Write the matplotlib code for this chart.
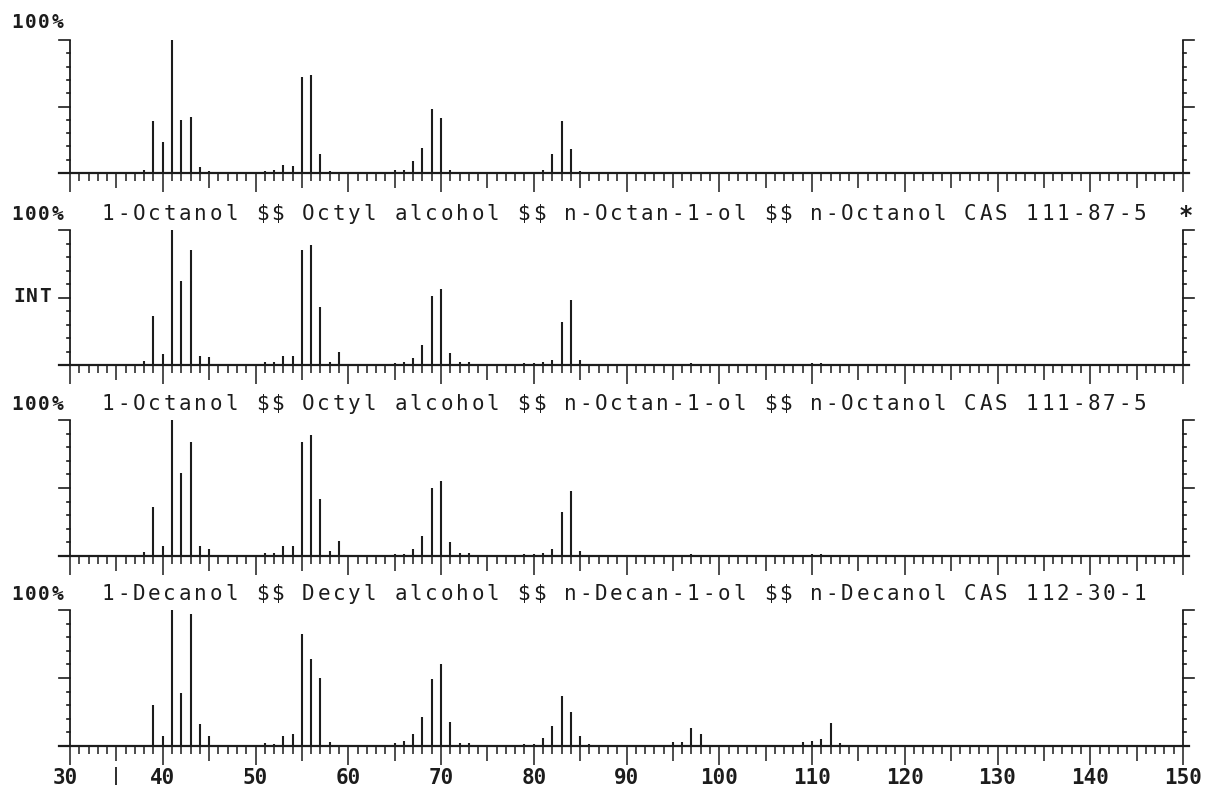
import matplotlib
matplotlib.use("Agg")
import matplotlib.pyplot as plt

# Figure size in pixels
W, H = 1206, 791

# Peak data (m/z, relative intensity %)
sample_mz = [38, 39, 40, 41, 42, 43, 44, 45, 50, 51, 52, 53, 54, 55, 56, 57, 58,
             65, 66, 67, 68, 69, 70, 71, 81, 82, 83, 84, 85]
sample_int = [2, 39, 23, 100, 40, 42, 4.5, 1.5, 1, 1.5, 2, 6, 5, 72, 74, 14, 1.5,
              2, 2.5, 9, 19, 48, 41, 2, 2.5, 14, 39, 18, 1.5]

octanol_mz = [38, 39, 40, 41, 42, 43, 44, 45, 50, 51, 52, 53, 54, 55, 56, 57, 58, 59,
              65, 66, 67, 68, 69, 70, 71, 72, 73, 79, 80, 81, 82, 83, 84, 85,
              97, 98, 110, 111, 112]
octanol_int_a = [3, 36, 8, 100, 62, 85, 7, 6, 1, 2, 2.5, 7, 7, 85, 89, 43, 2, 10,
                 1.5, 2, 5, 15, 51, 56, 9, 2, 2, 1.5, 1.5, 2, 4, 32, 48, 3.5,
                 1.5, 1, 1.5, 1.5, 1]
octanol_int_b = [3, 36, 7, 100, 61, 84, 7, 5, 1, 2, 2, 7, 7, 84, 89, 42, 4, 11,
                 1.5, 1.5, 5, 15, 50, 55, 10, 2, 2, 1.5, 1.5, 2, 5, 32, 48, 4,
                 1.5, 1, 1.5, 1.5, 1]

decanol_mz = [39, 40, 41, 42, 43, 44, 45, 50, 51, 52, 53, 54, 55, 56, 57, 58, 59,
              65, 66, 67, 68, 69, 70, 71, 72, 73, 79, 80, 81, 82, 83, 84, 85, 86,
              95, 96, 97, 98, 99, 109, 110, 111, 112, 113]
decanol_int = [30, 7, 100, 39, 97, 16, 7, 1, 2, 1.5, 7, 9, 82, 64, 50, 3, 1,
               2, 4, 9, 21, 49, 60, 18, 2, 2, 1.5, 1.5, 6, 15, 37, 25, 7, 1.5,
               3, 3, 13.5, 9, 1, 3, 4, 5, 17, 2]

titles = [
    "",
    "1-Octanol $$ Octyl alcohol $$ n-Octan-1-ol $$ n-Octanol CAS 111-87-5",
    "1-Octanol $$ Octyl alcohol $$ n-Octan-1-ol $$ n-Octanol CAS 111-87-5",
    "1-Decanol $$ Decyl alcohol $$ n-Decan-1-ol $$ n-Decanol CAS 112-30-1",
]
x_labels = [30, 40, 50, 60, 70, 80, 90, 100, 110, 120, 130, 140, 150]

# Layout (pixels from top): top of 100% line and baseline of each panel
panel_top = [40, 230, 420, 610]
panel_base = [173, 365, 556, 746]
text_y = [22, 214, 404, 594]

X30_PX, X150_PX = 70, 1183
px_per_unit = (X150_PX - X30_PX) / 120.0
XMIN = 30 - X30_PX / px_per_unit
XMAX = 150 + (W - X150_PX) / px_per_unit

INK = "#1c1c1c"
MONO = "DejaVu Sans Mono"


def mono_text(fig, x_px, y_px, s, pitch, size, weight="normal"):
    # fixed pitch text, like the old terminal print-out
    for i, ch in enumerate(s):
        if ch == " ":
            continue
        fig.text((x_px + i * pitch) / W, 1 - y_px / H, ch, ha="center", va="center",
                 family=MONO, size=size, weight=weight, color=INK)


def draw_panel(ax, mz, inten, top, base):
    ax.set_xlim(XMIN, XMAX)
    ax.set_ylim(0, 100)
    ax.axis("off")
    py = 100.0 / (base - top)   # data units per pixel, vertical
    px = 1.0 / px_per_unit      # data units per pixel, horizontal

    ax.vlines(mz, 0, inten, color=INK, lw=1.5)

    # baseline and m/z ticks
    ax.plot([30 - 11 * px, 150 + 6 * px], [0, 0], color=INK, lw=1.6, clip_on=False)
    for m in range(30, 151):
        if m % 10 == 0:
            ln = 19
        elif m % 5 == 0:
            ln = 15
        else:
            ln = 8
        ax.vlines(m, -ln * py, 0, color=INK, lw=1.1, clip_on=False)

    # left and right intensity axes
    for xa, side in [(30, -1), (150, 1)]:
        ax.vlines(xa, 0, 100, color=INK, lw=1.3, clip_on=False)
        for p in range(10, 101, 10):
            ln = 11 if p in (50, 100) else 3
            ax.plot([xa, xa + side * ln * px], [p, p], color=INK, lw=1.2, clip_on=False)


fig = plt.figure(figsize=(W / 100, H / 100), dpi=100)
fig.patch.set_facecolor("white")

panels = [(sample_mz, sample_int), (octanol_mz, octanol_int_a),
          (octanol_mz, octanol_int_b), (decanol_mz, decanol_int)]

axes = []
for i, (mz, inten) in enumerate(panels):
    top, base = panel_top[i], panel_base[i]
    ax = fig.add_axes([0, 1 - base / H, 1, (base - top) / H])
    draw_panel(ax, mz, inten, top, base)
    axes.append(ax)

    mono_text(fig, 17, text_y[i], "100%", 13.5, 14, "bold")
    if titles[i]:
        mono_text(fig, 108, text_y[i], titles[i], 15.4, 15)

# hit marker and intensity label
mono_text(fig, 1186, text_y[1] + 2, "*", 14, 17, "bold")
mono_text(fig, 19, 297, "INT", 13, 14, "bold")

# m/z labels under the last panel
ax4 = axes[-1]
py4 = 100.0 / (panel_base[3] - panel_top[3])
for m in x_labels:
    xl = m - 0.5 if m == 30 else m
    ax4.text(xl, -(778 - panel_base[3]) * py4, str(m), ha="center", va="center",
             family=MONO, size=15, weight="bold", color=INK, clip_on=False)
ax4.vlines(35, -(785 - panel_base[3]) * py4, -(767 - panel_base[3]) * py4,
           color=INK, lw=1.3, clip_on=False)

fig.savefig("out.png", dpi=100, facecolor="white")
